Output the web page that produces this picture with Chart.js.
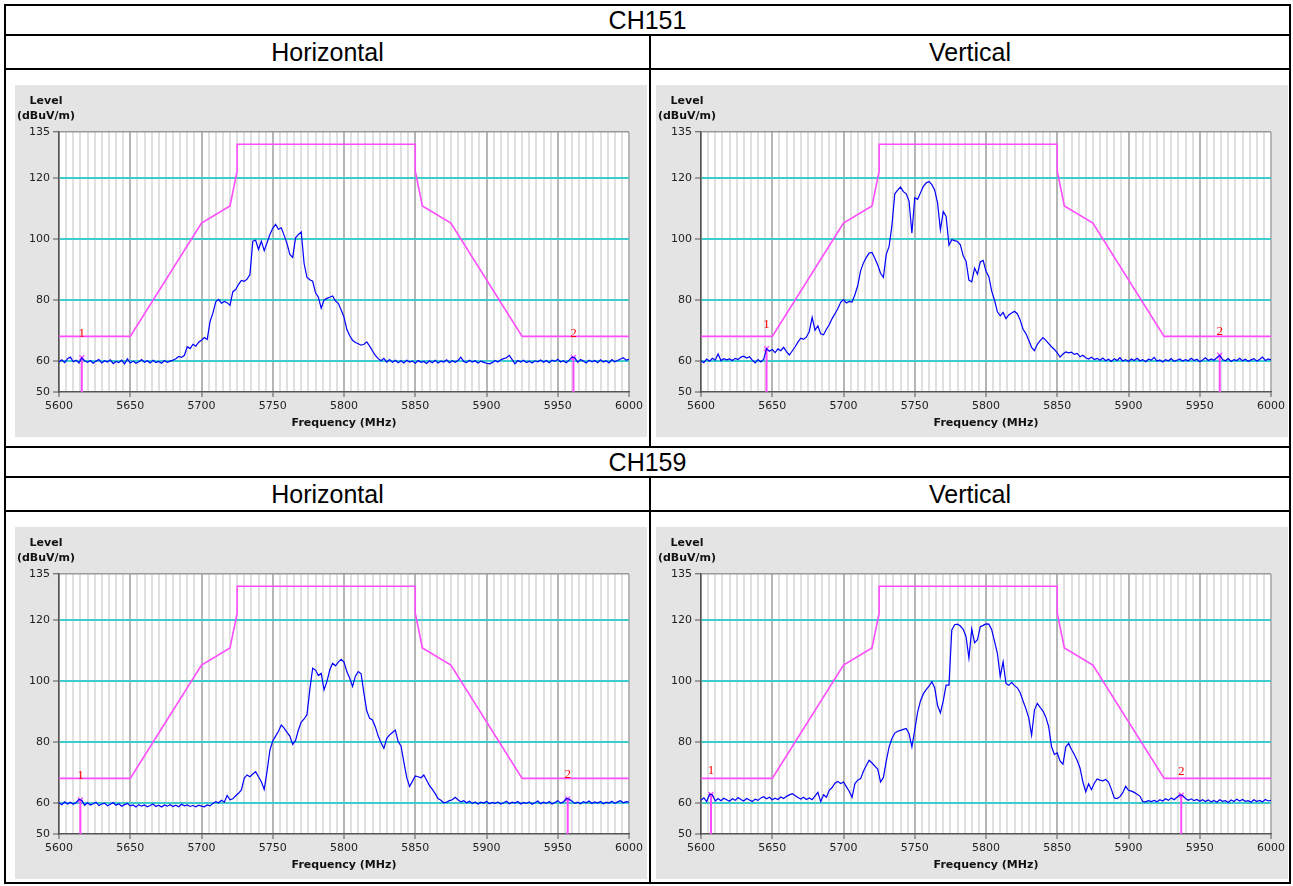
<!DOCTYPE html>
<html>
<head>
<meta charset="utf-8">
<title>CH151 / CH159 band edge</title>
<script src="https://cdn.jsdelivr.net/npm/chart.js@4.4.1/dist/chart.umd.min.js"></script>
<style>
  body { margin: 0; background: #fff; font-family: "Liberation Sans", Arial, sans-serif; }
  #sheet { position: relative; width: 1293px; height: 886px; overflow: hidden; }
  .rule { position: absolute; background: #000; }
  .head { position: absolute; text-align: center; font-size: 25px; color: #000; }
  .panel { position: absolute; width: 632px; height: 352px; background: #e4e4e4; }
  .panel canvas { display: block; }
</style>
</head>
<body>
<div id="sheet">
  <div class="rule" style="left:4px;top:4px;width:1287px;height:2px"></div>
  <div class="rule" style="left:4px;top:34px;width:1287px;height:2px"></div>
  <div class="rule" style="left:4px;top:68px;width:1287px;height:2px"></div>
  <div class="rule" style="left:4px;top:446px;width:1287px;height:2px"></div>
  <div class="rule" style="left:4px;top:476px;width:1287px;height:2px"></div>
  <div class="rule" style="left:4px;top:510px;width:1287px;height:2px"></div>
  <div class="rule" style="left:4px;top:882px;width:1287px;height:2px"></div>
  <div class="rule" style="left:4px;top:4px;width:2px;height:880px"></div>
  <div class="rule" style="left:1289px;top:4px;width:2px;height:880px"></div>
  <div class="rule" style="left:649px;top:34px;width:2px;height:414px"></div>
  <div class="rule" style="left:649px;top:476px;width:2px;height:408px"></div>

  <div class="head" style="left:6px;width:1283px;top:6px;height:28px;line-height:28px">CH151</div>
  <div class="head" style="left:6px;width:643px;top:36px;height:32px;line-height:32px">Horizontal</div>
  <div class="head" style="left:651px;width:638px;top:36px;height:32px;line-height:32px">Vertical</div>
  <div class="head" style="left:6px;width:1283px;top:448px;height:28px;line-height:28px">CH159</div>
  <div class="head" style="left:6px;width:643px;top:478px;height:32px;line-height:32px">Horizontal</div>
  <div class="head" style="left:651px;width:638px;top:478px;height:32px;line-height:32px">Vertical</div>

  <div class="panel" style="left:15px;top:85px"><canvas id="c151h" width="632" height="352"></canvas></div>
  <div class="panel" style="left:656px;top:85px"><canvas id="c151v" width="632" height="352"></canvas></div>
  <div class="panel" style="left:15px;top:527px"><canvas id="c159h" width="632" height="352"></canvas></div>
  <div class="panel" style="left:656px;top:527px"><canvas id="c159v" width="632" height="352"></canvas></div>
</div>
<script>
// sweep: 5600..6000 MHz, one reading every 2 MHz
const freqStart = 5600;
const freqStep = 2;
const freqLabels = [5600, 5650, 5700, 5750, 5800, 5850, 5900, 5950, 6000];
const gridStep = 5;
const levelTicks = [50, 60, 80, 100, 120, 135];

// limit line (dBuV/m)
const maskFreq  = [5600, 5650, 5700, 5720, 5725, 5725, 5850, 5850, 5855, 5875, 5925, 6000];
const maskLevel = [68.2, 68.2, 105.2, 110.8, 122.2, 131, 131, 122.2, 110.8, 105.2, 68.2, 68.2];

const ch151H = [
  59.8, 60.5, 59.6, 60.9, 61.4, 59.9, 60.4, 59.5, 61.2, 60.2,
  59.7, 60.3, 59.4, 60.1, 60.6, 59.5, 60.2, 59.8, 60.5, 59.3,
  60.0, 59.6, 60.4, 59.2, 60.8, 59.5, 60.1, 59.4, 59.9, 60.6,
  59.7, 60.2, 59.5, 60.4, 59.6, 60.0, 59.4, 60.3, 59.7, 60.1,
  60.4, 60.9, 61.6, 61.3, 62.0, 64.8, 64.2, 65.6, 65.0, 66.3,
  66.9, 67.8, 67.2, 73.0, 75.8, 79.5, 80.3, 79.0, 79.6, 79.2,
  78.3, 82.8, 83.5, 85.2, 86.5, 86.2, 86.9, 88.4, 99.3, 99.6,
  96.6, 99.3, 96.2, 98.8, 101.5, 103.5, 104.8, 103.2, 103.7, 101.2,
  98.5, 95.0, 94.0, 100.4, 101.5, 102.3, 92.0, 87.5, 86.7, 86.2,
  82.5, 81.0, 77.4, 80.1, 80.6, 81.0, 81.4, 79.8, 79.0, 76.8,
  74.5, 70.5, 68.4, 66.9, 66.2, 65.8, 65.3, 65.6, 66.4, 65.0,
  63.4, 62.0, 60.9, 60.2, 61.0, 59.8, 60.6, 59.7, 60.4, 59.6,
  60.2, 59.5, 60.4, 59.8, 60.1, 59.4, 60.3, 59.7, 60.0, 59.3,
  60.2, 59.6, 60.4, 59.5, 60.1, 59.8, 60.5, 59.6, 60.2, 59.7,
  60.3, 61.4, 60.0, 59.6, 60.4, 59.8, 60.2, 59.5, 60.1, 59.7,
  59.4, 59.2, 59.6, 60.3, 59.8, 60.5, 60.9, 61.2, 62.0, 60.6,
  59.2, 60.3, 59.8, 60.4, 59.6, 60.1, 59.5, 60.2, 59.9, 60.5,
  59.7, 60.3, 59.6, 60.4, 60.0, 60.7, 59.8, 60.2, 59.6, 60.4,
  61.4, 61.2, 59.7, 60.6, 60.1, 59.5, 60.4, 59.9, 60.3, 59.6,
  60.5, 59.8, 60.2, 59.5, 60.6, 59.9, 60.3, 60.8, 61.2, 60.4,
  60.7
];

const ch151V = [
  60.2, 59.6, 60.8, 60.1, 61.0, 60.4, 62.4, 60.3, 60.9, 60.5,
  60.8, 60.3, 61.0, 60.6, 61.4, 61.7, 61.1, 61.5, 60.4, 59.5,
  60.6, 59.8, 60.7, 64.2, 63.3, 63.9, 62.9, 64.1, 63.5, 64.6,
  63.2, 62.1, 63.4, 64.7, 66.3, 67.6, 67.2, 68.0, 69.8, 74.4,
  70.2, 71.6, 69.0, 68.7, 70.5, 72.0, 74.0, 75.6, 77.2, 79.3,
  80.2, 79.1, 79.6, 79.4, 81.8, 84.8, 89.6, 92.2, 94.0, 95.4,
  95.6, 93.7, 91.5, 88.8, 87.5, 95.0, 97.6, 104.5, 114.8, 116.0,
  117.0, 115.5, 114.8, 112.4, 101.9, 113.5, 113.0, 115.1, 117.2, 118.3,
  118.8, 117.8, 116.0, 111.8, 103.0, 109.0, 107.4, 98.0, 99.8, 99.5,
  99.2, 98.1, 94.5, 92.8, 86.6, 86.0, 90.5, 88.5, 92.5, 93.0,
  89.5, 87.7, 83.0, 80.0, 76.2, 74.9, 76.0, 74.0, 75.2, 75.8,
  76.4, 75.6, 73.5, 70.5, 69.1, 66.9, 64.6, 63.5, 65.6, 66.8,
  67.8, 66.9, 65.8, 64.8, 63.9, 62.8, 61.4, 62.4, 63.1, 62.8,
  63.0, 62.3, 62.6, 61.5, 62.0, 61.2, 60.8, 61.4, 60.6, 61.0,
  60.4, 61.1, 60.2, 60.7, 60.0, 60.9, 60.3, 61.2, 60.1, 60.6,
  60.0, 60.8, 60.3, 61.0, 60.2, 60.6, 59.9, 60.7, 60.4, 61.3,
  60.1, 60.5, 59.8, 60.6, 60.2, 60.9, 60.0, 60.4, 60.8, 60.1,
  60.6, 60.2, 61.0, 60.3, 60.7, 59.9, 60.5, 61.2, 60.3, 60.8,
  60.4, 61.2, 62.0, 60.6, 60.2, 60.9, 60.0, 60.6, 60.3, 61.0,
  60.2, 60.7, 60.0, 60.5, 60.9, 60.1, 60.6, 61.4, 60.3, 60.8,
  60.5
];

const ch159H = [
  60.2, 59.6, 60.5, 59.8, 60.4, 59.7, 60.3, 61.3, 61.0, 59.4,
  60.2, 59.5, 59.9, 60.4, 59.3, 59.8, 60.1, 59.2, 59.7, 60.3,
  59.4, 59.9, 59.1, 59.6, 60.0, 59.2, 59.5, 58.8, 59.6, 59.1,
  59.5, 58.9, 59.3, 59.8, 59.0, 59.4, 58.8, 59.5, 59.1, 59.6,
  59.0, 59.4, 58.9, 59.7, 59.2, 59.5, 59.0, 59.3, 58.9, 59.4,
  59.1, 58.9, 59.5, 59.2, 60.0, 60.6, 60.2, 61.0, 60.4, 62.6,
  61.2, 61.5, 62.5, 63.3, 64.4, 68.3, 69.3, 68.7, 69.6, 70.4,
  68.7, 67.1, 64.6, 70.5, 77.4, 80.4, 82.0, 83.6, 85.6, 84.6,
  83.2, 82.0, 79.3, 80.6, 84.0, 86.6, 87.6, 89.0, 97.1, 104.2,
  103.6, 101.8, 102.5, 97.1, 99.8, 103.6, 105.8, 105.0, 106.2, 107.1,
  106.2, 103.1, 100.9, 98.2, 101.6, 103.1, 102.4, 96.0, 90.2, 87.8,
  87.3, 85.0, 82.0, 79.8, 78.0, 81.3, 82.4, 83.2, 84.0, 80.2,
  78.8, 73.5, 68.5, 65.5, 67.2, 69.0, 68.7, 68.4, 69.3, 67.6,
  65.8, 64.6, 63.2, 61.6, 61.0, 60.2, 60.4, 60.9, 61.2, 62.0,
  61.2, 60.5, 60.9, 60.2, 60.7, 60.0, 60.5, 59.8, 60.4, 60.1,
  60.6, 59.9, 60.3, 60.0, 60.5, 59.8, 60.2, 60.7, 59.9, 60.4,
  60.1, 60.6, 59.8, 60.3, 60.0, 60.5, 59.7, 60.2, 60.8, 59.9,
  60.4, 60.0, 60.6, 59.8, 60.3, 60.9, 60.1, 60.5, 61.6, 61.4,
  60.7, 60.0, 60.4, 59.9, 60.6, 60.2, 60.8, 60.0, 60.5, 60.1,
  60.6, 59.9, 60.4, 60.1, 60.7, 60.0, 60.5, 60.9, 60.2, 60.6,
  60.4
];

const ch159V = [
  61.0, 61.8, 60.6, 63.0, 62.8, 60.8, 61.6, 60.9, 61.7, 61.2,
  60.7, 61.5, 61.0, 61.9, 61.3, 60.8, 61.6, 61.1, 60.6, 61.4,
  61.0, 61.8, 62.2, 61.5, 62.0, 61.2, 61.7, 61.3, 62.1, 61.6,
  62.3, 62.8, 63.2, 62.6, 61.9, 61.4, 62.0, 61.3, 61.8, 61.2,
  62.4, 63.6, 60.6, 62.8, 62.0, 64.3, 65.2, 66.6, 67.2, 66.5,
  67.0, 65.5, 64.0, 62.0, 66.5, 67.6, 68.1, 70.5, 72.4, 74.1,
  73.2, 72.2, 71.2, 67.0, 68.5, 73.8, 78.5, 81.2, 83.0, 83.6,
  83.9, 84.2, 84.5, 82.8, 78.5, 84.0, 89.8, 93.5, 95.8, 97.2,
  98.3, 99.8, 97.8, 92.0, 89.6, 93.5, 98.7, 98.7, 116.7, 118.4,
  118.6, 118.0, 116.9, 114.5, 107.5, 117.0, 112.5, 113.5, 117.8, 118.2,
  118.7, 118.6, 116.8, 113.0, 109.0, 101.5, 106.3, 99.2, 98.6, 99.6,
  98.5, 97.8, 96.2, 93.5, 91.0, 88.0, 82.3, 90.5, 92.7, 91.4,
  90.2, 88.2, 85.0, 78.5, 76.0, 76.5, 73.8, 72.8, 78.5, 79.6,
  77.6, 76.0, 74.0, 71.5, 67.0, 63.8, 66.4, 64.5, 66.6, 68.0,
  67.6, 67.4, 67.8, 67.0, 64.6, 61.8, 61.6, 62.2, 63.5, 65.6,
  64.3, 64.0, 63.6, 63.0, 62.4, 60.6, 60.5, 60.9, 60.6, 61.0,
  60.5, 61.2, 60.8, 61.5, 61.0, 61.8, 61.2, 62.0, 62.8, 62.6,
  61.6, 61.0, 61.5, 60.9, 61.3, 60.7, 61.2, 60.6, 61.1, 60.5,
  61.0, 60.4, 61.2, 60.7, 60.9, 60.3, 61.1, 60.6, 61.4, 60.8,
  61.3, 60.7, 60.9, 60.4, 61.2, 60.6, 61.0, 60.5, 61.3, 60.8,
  61.0
];

// marker frequencies (MHz)
const markers151H = [5616, 5961];
const markers151V = [5646, 5964];
const markers159H = [5615, 5957];
const markers159V = [5607, 5937];

const MAGENTA = '#ff4cff';
const PLOT_H = 260;
const PLOT_TOP = 47;

function levelAt(trace, f) {
  const pos = (f - freqStart) / freqStep;
  const i = Math.floor(pos);
  const t = pos - i;
  return trace[i] + ((trace[i + 1] ?? trace[i]) - trace[i]) * t;
}

function makeChart(id, trace, markerFreqs, axisWidth, padRight) {
  const marks = markerFreqs.map(f => ({ f, level: levelAt(trace, f) }));
  const datasets = [
    {
      data: maskFreq.map((f, i) => ({ x: f, y: maskLevel[i] })),
      borderColor: MAGENTA, borderWidth: 1.6, pointRadius: 0
    },
    {
      data: trace.map((v, i) => ({ x: freqStart + i * freqStep, y: v })),
      borderColor: '#0000ff', borderWidth: 1.2, pointRadius: 0
    }
  ];
  marks.forEach(m => {
    datasets.push({
      data: [{ x: m.f, y: 50 }, { x: m.f, y: m.level }],
      borderColor: MAGENTA, borderWidth: 2,
      pointRadius: [0, 3.5], pointStyle: 'crossRot',
      pointBorderColor: MAGENTA, pointBorderWidth: 1.3
    });
  });

  const plotBackground = {
    id: 'plotBackground',
    beforeDraw(chart) {
      const { ctx, chartArea: a } = chart;
      ctx.save();
      ctx.fillStyle = '#fff';
      ctx.fillRect(a.left, a.top, a.right - a.left, a.bottom - a.top);
      ctx.restore();
    }
  };

  const panelText = {
    id: 'panelText',
    afterDraw(chart) {
      const { ctx, scales: { x, y } } = chart;
      ctx.save();
      ctx.textAlign = 'center';
      ctx.textBaseline = 'middle';
      ctx.fillStyle = '#111';
      ctx.font = 'bold 11px "DejaVu Sans"';
      ctx.fillText('Level', 31, 16);
      ctx.fillText('(dBuV/m)', 31, 31.5);
      ctx.fillStyle = '#ff0000';
      ctx.font = '13px "Liberation Serif"';
      marks.forEach((m, i) => {
        ctx.fillText(String(i + 1), x.getPixelForValue(m.f), y.getPixelForValue(m.level) - 24);
      });
      ctx.restore();
    }
  };

  const canvas = document.getElementById(id);
  return new Chart(canvas, {
    type: 'line',
    data: { datasets },
    options: {
      responsive: false,
      animation: false,
      devicePixelRatio: 1,
      layout: { padding: { top: PLOT_TOP, right: padRight, left: 0, bottom: 0 } },
      plugins: { legend: { display: false }, tooltip: { enabled: false } },
      elements: { line: { tension: 0 } },
      scales: {
        x: {
          type: 'linear',
          min: freqLabels[0],
          max: freqLabels[freqLabels.length - 1],
          afterBuildTicks: scale => {
            const ticks = [];
            for (let f = freqLabels[0]; f <= freqLabels[freqLabels.length - 1]; f += gridStep) ticks.push({ value: f });
            scale.ticks = ticks;
          },
          afterFit: scale => { scale.height = canvas.height - PLOT_TOP - PLOT_H; },
          ticks: {
            autoSkip: false, maxRotation: 0, padding: 3,
            color: '#222', font: { family: 'DejaVu Sans', size: 11 },
            callback: v => freqLabels.includes(v) ? String(v) : ''
          },
          grid: {
            z: -2,
            lineWidth: 2,
            color: c => freqLabels.includes(c.tick.value) ? '#b6b6b6' : '#e0e0e0',
            tickColor: c => freqLabels.includes(c.tick.value) ? '#555' : 'rgba(0,0,0,0)',
            tickLength: 5, tickWidth: 1
          },
          border: { color: '#555', width: 1.5 },
          title: {
            display: true, text: 'Frequency (MHz)', color: '#111',
            font: { family: 'DejaVu Sans', size: 11, weight: 'bold' },
            padding: { top: 0, bottom: 7 }
          }
        },
        y: {
          min: levelTicks[0],
          max: levelTicks[levelTicks.length - 1],
          afterBuildTicks: scale => { scale.ticks = levelTicks.map(v => ({ value: v })); },
          afterFit: scale => { scale.width = axisWidth; },
          ticks: { padding: 3, color: '#222', font: { family: 'DejaVu Sans', size: 11 } },
          grid: {
            z: -1,
            color: c => {
              const v = c.tick.value;
              if (v === levelTicks[0]) return 'rgba(0,0,0,0)';
              if (v === levelTicks[levelTicks.length - 1]) return '#999';
              return '#40cccc';
            },
            lineWidth: c => c.tick.value === levelTicks[levelTicks.length - 1] ? 1.5 : 2,
            tickColor: '#555', tickLength: 6, tickWidth: 1
          },
          border: { color: '#555', width: 1.5 }
        }
      }
    },
    plugins: [plotBackground, panelText]
  });
}

makeChart('c151h', ch151H, markers151H, 44, 18);
makeChart('c151v', ch151V, markers151V, 45, 16);
makeChart('c159h', ch159H, markers159H, 44, 18);
makeChart('c159v', ch159V, markers159V, 45, 16);
</script>
</body>
</html>
